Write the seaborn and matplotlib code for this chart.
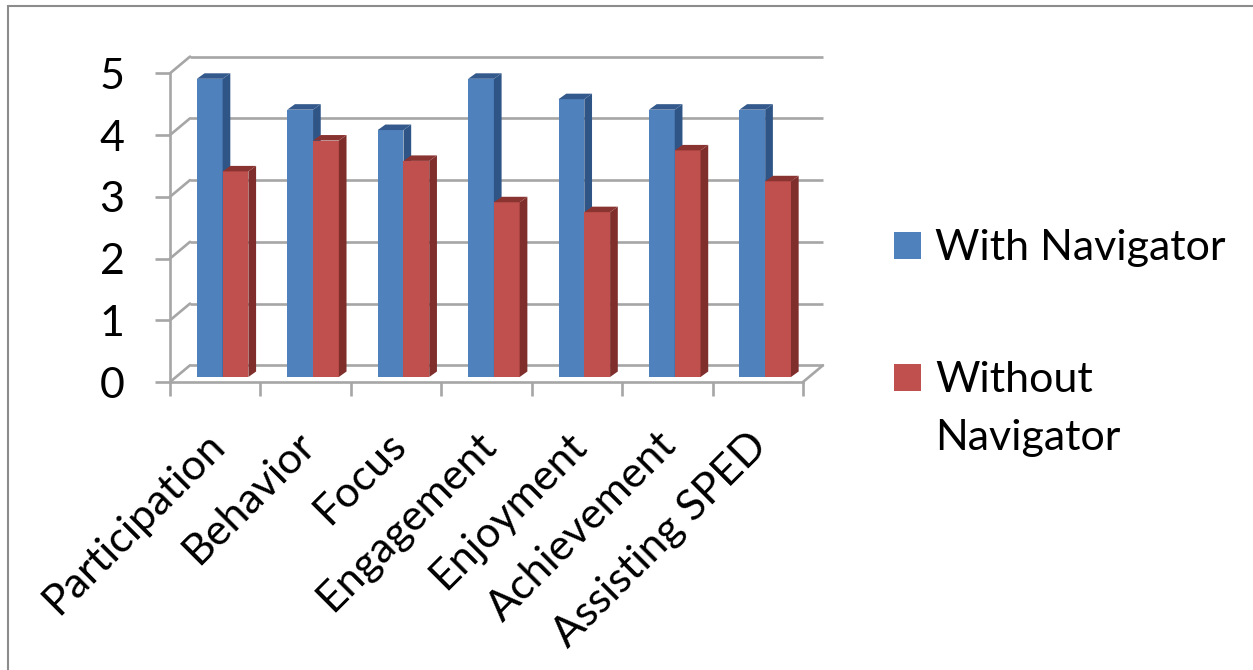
import numpy as np
import pandas as pd
import matplotlib
matplotlib.use("Agg")
import matplotlib.pyplot as plt
import seaborn as sns
from matplotlib.patches import Polygon, Rectangle
from matplotlib.transforms import ScaledTranslation

categories = ["Participation", "Behavior", "Focus", "Engagement",
              "Enjoyment", "Achievement", "Assisting SPED"]
with_nav = [4.83, 4.33, 4.0, 4.83, 4.5, 4.33, 4.33]
without_nav = [3.33, 3.83, 3.5, 2.83, 2.67, 3.67, 3.17]
series = ["With Navigator", "Without Navigator"]
legend_labels = ["With Navigator", "Without\nNavigator"]
y_ticks = [0, 1, 2, 3, 4, 5]

sns.set_theme(style="white")
plt.rcParams["font.family"] = ["Lato", "DejaVu Sans"]

W, H, DPI = 1253, 670, 100
fig = plt.figure(figsize=(W / DPI, H / DPI), dpi=DPI)
fig.patch.set_facecolor("white")

# front plane of the 3D box in pixels
X0, X1, Y0, Y5 = 170, 803, 382, 73.3
ax = fig.add_axes([X0 / W, 1 - Y0 / H, (X1 - X0) / W, (Y0 - Y5) / H])
ax.set_facecolor("none")

df = pd.DataFrame({
    "Category": categories * 2,
    "Score": with_nav + without_nav,
    "Series": [series[0]] * len(categories) + [series[1]] * len(categories),
})
blue, red = "#4F81BD", "#C0504D"
blue_side, blue_top = "#2F5587", "#34598C"
red_side, red_top = "#7F2E2C", "#8A3432"

sns.barplot(data=df, x="Category", y="Score", hue="Series", order=categories,
            hue_order=series, palette=[blue, red], width=0.57, saturation=1,
            linewidth=0, legend=False, ax=ax)

ax.set_xlim(-0.5, len(categories) - 0.5)
ax.set_ylim(0, 5)
ax.set_xlabel("")
ax.set_ylabel("")

ppx = (X1 - X0) / len(categories)
ppy = (Y0 - Y5) / 5.0
grid_c = "#A6A6A6"
glw = 1.9

# back wall depth (data units)
dxd, dyd = 20 / ppx, 16.7 / ppy
xl, xr = -0.5, len(categories) - 0.5
for y in y_ticks:
    ax.plot([xl + dxd, xr + dxd], [y + dyd, y + dyd], color=grid_c, lw=glw,
            zorder=1, clip_on=False, solid_capstyle="butt")
    ax.plot([xl, xl + dxd], [y, y + dyd], color=grid_c, lw=glw, zorder=1,
            clip_on=False)
ax.plot([xr, xr + dxd], [0, dyd], color=grid_c, lw=glw, zorder=1, clip_on=False)

# 3D bars: shift front faces slightly back, add side and top faces
shift = ScaledTranslation(7.4 / DPI, 5 / DPI, fig.dpi_scale_trans)
dbx, dby = 7.7 / ppx, 5.5 / ppy
for k, (container, sc, tc) in enumerate(zip(ax.containers,
                                             [blue_side, red_side],
                                             [blue_top, red_top])):
    z = 3 + k
    for bar in container:
        x0 = bar.get_x()
        w = bar.get_width()
        h = bar.get_height()
        x1 = x0 + w
        bar.set_transform(ax.transData + shift)
        bar.set_zorder(z)
        bar.set_clip_on(False)
        side = Polygon([(x1, 0), (x1 + dbx, dby), (x1 + dbx, h + dby), (x1, h)],
                       closed=True, fc=sc, lw=0, zorder=z,
                       transform=ax.transData + shift, clip_on=False)
        top = Polygon([(x0, h), (x1, h), (x1 + dbx, h + dby), (x0 + dbx, h + dby)],
                      closed=True, fc=tc, lw=0, zorder=z,
                      transform=ax.transData + shift, clip_on=False)
        ax.add_patch(side)
        ax.add_patch(top)

# axes lines
for s in ["top", "right"]:
    ax.spines[s].set_visible(False)
for s in ["left", "bottom"]:
    ax.spines[s].set_color(grid_c)
    ax.spines[s].set_linewidth(glw)
    ax.spines[s].set_zorder(2)

fs = 31
ax.set_yticks(y_ticks)
ax.set_yticklabels([str(v) for v in y_ticks])
ax.tick_params(axis="y", direction="out", length=15 * 0.72, width=glw,
               color=grid_c, pad=22, labelsize=fs, labelcolor="black", left=True)
ax.set_xticks(range(len(categories)))
ax.set_xticklabels(categories, rotation=45, ha="right", va="center",
                   rotation_mode="anchor")
ax.tick_params(axis="x", which="major", length=0, pad=41, labelsize=fs,
               labelcolor="black")
ax.set_xticks(np.arange(-0.5, len(categories), 1), minor=True)
ax.tick_params(axis="x", which="minor", direction="out", length=14 * 0.72,
               width=glw, color=grid_c, bottom=True)
lab_shift = ScaledTranslation(3 / DPI, 0, fig.dpi_scale_trans)
for lab in ax.get_xticklabels():
    lab.set_transform(lab.get_transform() + lab_shift)

# legend (drawn as keys + text, first text line aligned with its key)
key_tops = [232, 364]
key_size = 27
line_gap = 58
for lbl, col, top in zip(legend_labels, [blue, red], key_tops):
    fig.patches.append(Rectangle((894 / W, 1 - (top + key_size) / H),
                                 key_size / W, key_size / H,
                                 transform=fig.transFigure, fc=col, lw=0))
    for j, line in enumerate(lbl.split("\n")):
        fig.text(935 / W, 1 - (top + key_size + 1 + j * line_gap) / H, line,
                 fontsize=fs, color="black", ha="left", va="baseline")

# outer chart border (only left and top visible)
fig.patches.append(Rectangle((8 / W, -0.2), 1.5, (H - 6) / H + 0.2,
                             transform=fig.transFigure, fill=False,
                             ec="#8C8C8C", lw=1.5))

fig.savefig("out.png", dpi=DPI)
